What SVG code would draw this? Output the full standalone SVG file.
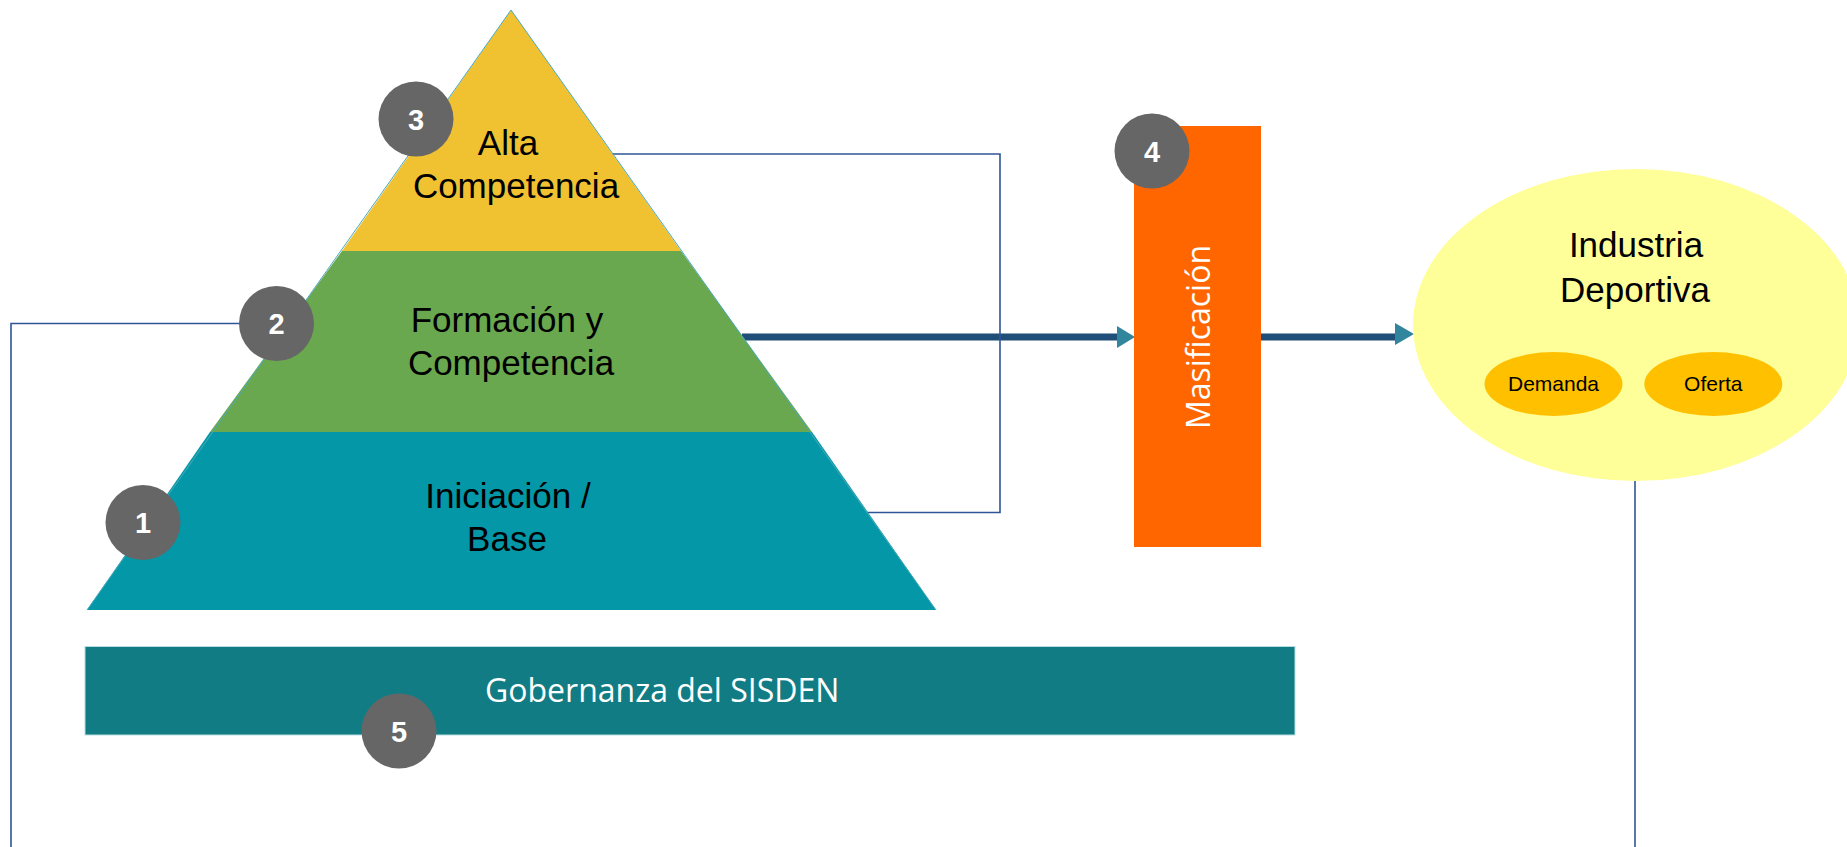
<svg xmlns="http://www.w3.org/2000/svg" width="1847" height="847" viewBox="0 0 1847 847">
<style>
.lbl{font-family:"Liberation Sans",Arial,sans-serif;font-size:35px;fill:#000;text-anchor:middle}
.sm{font-family:"Liberation Sans",Arial,sans-serif;font-size:21px;fill:#000;text-anchor:middle}
.wt{font-family:"Open Sans","Liberation Sans",sans-serif;font-size:32px;fill:#fff}
.num{font-family:"Liberation Sans",Arial,sans-serif;font-size:29px;font-weight:bold;fill:#fff;text-anchor:middle}
.badge{fill:#666666}
.thin{fill:none;stroke:#2F5597;stroke-width:1.6}
.thick{fill:none;stroke:#1F4E79;stroke-width:7}
.head{fill:#31859C}
</style>
<rect width="1847" height="847" fill="#ffffff"/>

<g id="connectors">
  <line class="thick" x1="742" y1="337" x2="1120" y2="337"/>
  <polygon class="head" points="1117,326 1135,337 1117,348"/>
  <line class="thick" x1="1260" y1="337" x2="1398" y2="337"/>
  <polygon class="head" points="1395,323 1414,334 1395,345"/>
  <polyline class="thin" points="612,154 1000,154 1000,512.5 866,512.5"/>
  <polyline class="thin" points="11,847 11,323.5 276,323.5"/>
  <line class="thin" x1="1635" y1="480" x2="1635" y2="847"/>
</g>

<g id="pyramid">
  <g id="level-base">
    <polygon points="210,432 812,432 936,610 87,610" fill="#0397A7"/>
    <text class="lbl" x="508" y="508">Iniciación /</text>
    <text class="lbl" x="507" y="551">Base</text>
  </g>
  <g id="level-formacion">
    <polygon points="342,251 681,251 812,432 210,432" fill="#6AA84F"/>
    <text class="lbl" x="507" y="332">Formación y</text>
    <text class="lbl" x="511" y="375">Competencia</text>
  </g>
  <g id="level-alta">
    <polygon points="511,10 681,251 342,251" fill="#F0C131"/>
    <text class="lbl" x="508" y="155">Alta</text>
    <text class="lbl" x="516" y="198">Competencia</text>
  </g>
  <path d="M87,610 L511,10 L936,610" fill="none" stroke="#4AA9BC" stroke-width="1"/>
</g>

<g id="masificacion">
  <rect x="1134" y="126" width="127" height="421" fill="#FF6600"/>
  <text class="wt" text-anchor="middle" transform="translate(1209.5,337) rotate(-90)">Masificación</text>
</g>

<g id="industria">
  <ellipse cx="1636" cy="325" rx="223" ry="156" fill="#FFFF99"/>
  <text class="lbl" x="1636" y="257">Industria</text>
  <text class="lbl" x="1635" y="302">Deportiva</text>
</g>
<g id="demanda">
  <ellipse cx="1553.5" cy="384" rx="69" ry="32" fill="#FFC000"/>
  <text class="sm" x="1553.5" y="391">Demanda</text>
</g>
<g id="oferta">
  <ellipse cx="1713.3" cy="384" rx="69" ry="32" fill="#FFC000"/>
  <text class="sm" x="1713.3" y="391">Oferta</text>
</g>

<g id="gobernanza">
  <rect x="85" y="646.5" width="1210" height="88.5" fill="#127C85" stroke="#B8DDE1" stroke-width="1"/>
  <text class="wt" x="485" y="702">Gobernanza del SISDEN</text>
</g>

<g id="badge-1"><circle class="badge" cx="143" cy="522.5" r="37.5"/><text class="num" x="143" y="533">1</text></g>
<g id="badge-2"><circle class="badge" cx="276.5" cy="323.5" r="37.5"/><text class="num" x="276.5" y="334">2</text></g>
<g id="badge-3"><circle class="badge" cx="416" cy="119" r="37.5"/><text class="num" x="416" y="129.5">3</text></g>
<g id="badge-4"><circle class="badge" cx="1152" cy="151" r="37.5"/><text class="num" x="1152" y="161.5">4</text></g>
<g id="badge-5"><circle class="badge" cx="399" cy="731" r="37.5"/><text class="num" x="399" y="741.5">5</text></g>
</svg>
